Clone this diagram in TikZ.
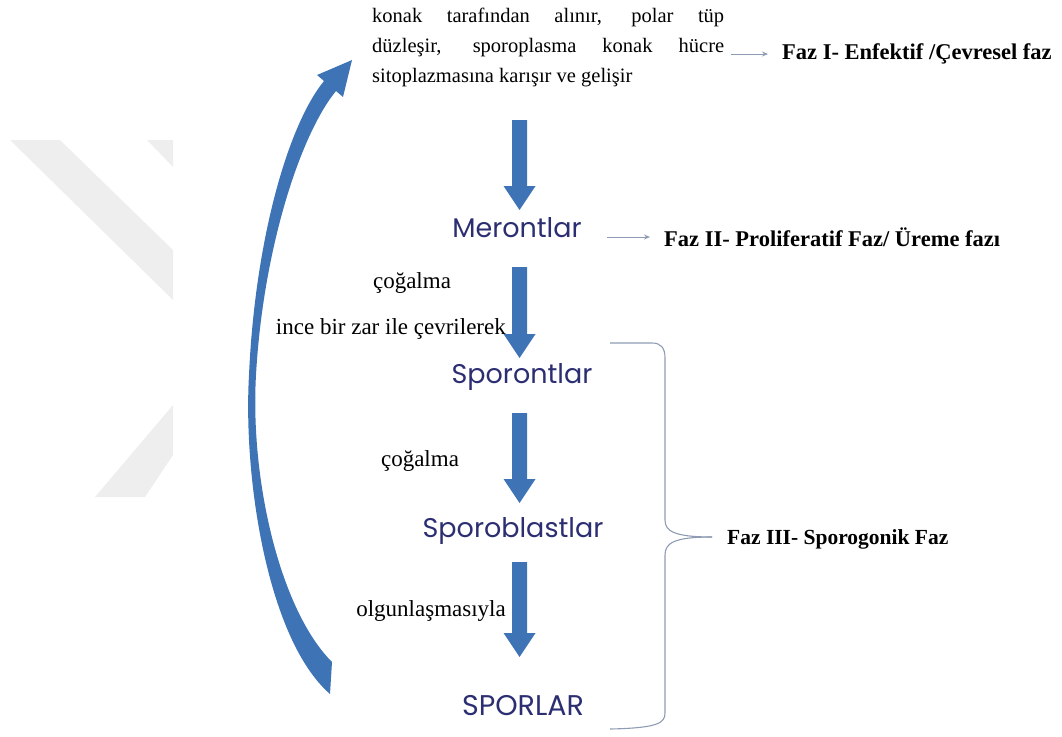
\documentclass[tikz,border=0pt]{standalone}
\usepackage{fontspec}
\setmainfont{Liberation Serif}
\newfontfamily\comicf{Poppins}
\usetikzlibrary{arrows.meta}
\definecolor{arrblue}{HTML}{3E74B6}
\definecolor{wordblue}{HTML}{2C2E72}
\definecolor{thingray}{HTML}{8E9CB3}
\definecolor{wm}{HTML}{EEEEEE}
\tikzset{
  body/.style={font=\fontsize{20.5}{30}\selectfont, inner sep=0pt},
  faz/.style={font=\fontsize{22.5}{26}\selectfont\bfseries, anchor=west, inner sep=0pt},
  stage/.style={font=\comicf\fontsize{27}{30}\selectfont, text=wordblue, inner sep=0pt},
  lab/.style={font=\fontsize{23}{25}\selectfont, inner sep=0pt},
  thinarrow/.style={draw=thingray, line width=0.9pt, -{Stealth[length=6pt,width=5pt]}},
  bracestyle/.style={draw=thingray, line width=1.1pt},
}
\begin{document}
\begin{tikzpicture}[x=1pt,y=-1pt]
\useasboundingbox (0,0) rectangle (1062,736);
% watermark
\fill[wm] (10,140) -- (60,140) -- (173,250) -- (173,300) -- cycle;
\fill[wm] (147,140) -- (173,140) -- (173,167) -- cycle;
\fill[wm] (173,405) -- (173,455) -- (145,497) -- (95,497) -- cycle;

% curved arrow
\fill[arrblue] (330,694) .. controls (268,640) and (243,480) .. (249,375)
  .. controls (255,240) and (288,125) .. (324,81) -- (317,75) -- (352,60) -- (343,97) -- (336,91)
  .. controls (300,135) and (263,250) .. (256,375)
  .. controls (250,480) and (280,610) .. (332,662) -- cycle;

% texts
\node[body, text width=352pt, align=justify, anchor=north west] (t1) at (372,8)
 {konak tarafından alınır, polar tüp\linebreak düzleşir, sporoplasma konak hücre\linebreak sitoplazmasına karışır ve gelişir};
\coordinate (t1e) at (731,54);
\node[faz] (f1) at (782,54) {Faz I- Enfektif /Çevresel faz};
\draw[thinarrow] (t1e) -- ([xshift=-14pt]f1.west);

\node[stage] (mer) at (517,228) {Merontlar};
\node[faz] (f2) at (664,237) {Faz II- Proliferatif Faz/ Üreme fazı};
\coordinate (m2) at (607,237);
\draw[thinarrow] (m2) -- ([xshift=-14pt]f2.west);

\node[stage] (spo) at (522,377) {Sporontlar};
\node[stage] (spb) at (513,531) {Sporoblastlar};
\node[stage, font=\comicf\fontsize{28.5}{30}\selectfont] (spr) at (523,706) {SPORLAR};

\node[lab] (c1) at (412,283) {çoğalma};
\node[lab, anchor=east] (c2) at (506,329) {ince bir zar ile çevrilerek};
\node[lab] (c3) at (420,461) {çoğalma};
\node[lab, anchor=east] (c4) at (506,611) {olgunlaşmasıyla};

% block arrows
\foreach \a/\b in {120/210, 267/358, 413/503, 562/657}{
  \fill[arrblue] (512,\a) -- (527,\a) -- (527,\b-24) -- (535.5,\b-24) -- (519.5,\b) -- (503.5,\b-24) -- (512,\b-24) -- cycle;
}

% brace
\node[faz, font=\fontsize{21.5}{24}\selectfont\bfseries] (f3) at (727,539) {Faz III- Sporogonik Faz};
\draw[bracestyle] (610,343) -- (652,343) .. controls (661,343) and (665,348) .. (665,358)
  -- (665,520) .. controls (665,531) and (674,537) .. (712,537);
\draw[bracestyle] (712,537) .. controls (674,537) and (665,543) .. (665,555)
  -- (665,713) .. controls (665,723) and (658,728) .. (610,729);
\end{tikzpicture}
\end{document}
